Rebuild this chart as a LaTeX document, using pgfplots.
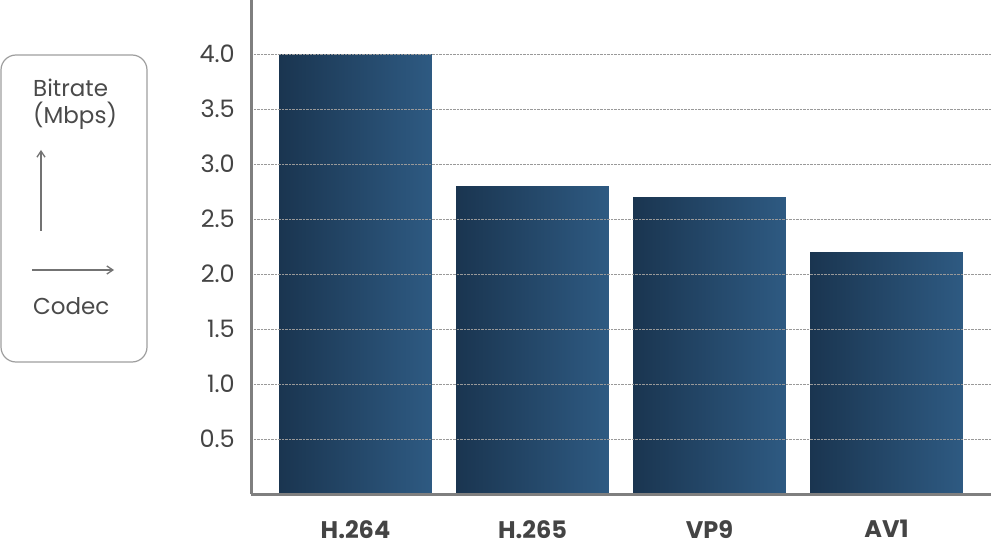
\documentclass[border=0pt]{standalone}
\usepackage{pgfplots}
\pgfplotsset{compat=1.18}
\usepackage{fontspec}
\setmainfont{Poppins}
\usetikzlibrary{arrows.meta}
\definecolor{barL}{HTML}{1A3550}
\definecolor{barR}{HTML}{2E5A82}
\definecolor{axgray}{HTML}{7F7F7F}
\definecolor{txt}{HTML}{444444}
\definecolor{boxtxt}{HTML}{4A4A4A}
\begin{document}
\begin{tikzpicture}[x=1pt,y=1pt]
\useasboundingbox (0,0) rectangle (991,558);
\draw[rounded corners=15pt, draw=black!38, line width=1.2pt] (1,196) rectangle (147,503);
\node[anchor=base west, font=\fontsize{23}{26}\selectfont, text=boxtxt, inner sep=0pt] at (33,461) {Bitrate};
\node[anchor=base west, font=\fontsize{23}{26}\selectfont, text=boxtxt, inner sep=0pt] at (33,434) {(Mbps)};
\node[anchor=base west, font=\fontsize{23}{26}\selectfont, text=boxtxt, inner sep=0pt] at (33,244) {Codec};
\draw[-{Straight Barb[length=6pt,width=8pt]}, draw=black!55, line width=1.3pt] (41,327) -- (41,408);
\draw[-{Straight Barb[length=6pt,width=8pt]}, draw=black!55, line width=1.3pt] (32,288) -- (114,288);
\begin{axis}[
  at={(251pt,64pt)}, anchor=south west,
  scale only axis, width=740pt, height=494pt,
  xmin=-0.5904, xmax=3.5904, ymin=0, ymax=4.491,
  ybar, bar width=0.864,
  axis x line=bottom, axis y line=left,
  axis line style={-, draw=axgray, line width=3pt},
  axis on top,
  ymajorgrids, grid style={densely dotted, draw=black!40, line width=0.8pt},
  major tick length=0pt,
  ytick={0.5,1,1.5,2,2.5,3,3.5,4},
  /pgf/number format/fixed, /pgf/number format/fixed zerofill,
  /pgf/number format/precision=1, /pgf/number format/assume math mode=true,
  y tick label style={anchor=east, inner sep=0pt, xshift=-16pt, font=\fontsize{24}{28}\selectfont, text=txt},
  xtick={0,1,2,3},
  xticklabels={H.264,H.265,VP9,AV1},
  x tick label style={anchor=north, inner sep=0pt, yshift=-26pt, font=\fontsize{24}{28}\selectfont\bfseries, text=txt},
]
\addplot[bar shift=0pt, draw=none, left color=barL, right color=barR] coordinates {(0,4.0)};
\addplot[bar shift=0pt, draw=none, left color=barL, right color=barR] coordinates {(1,2.8)};
\addplot[bar shift=0pt, draw=none, left color=barL, right color=barR] coordinates {(2,2.7)};
\addplot[bar shift=0pt, draw=none, left color=barL, right color=barR] coordinates {(3,2.2)};
\end{axis}
\end{tikzpicture}
\end{document}
